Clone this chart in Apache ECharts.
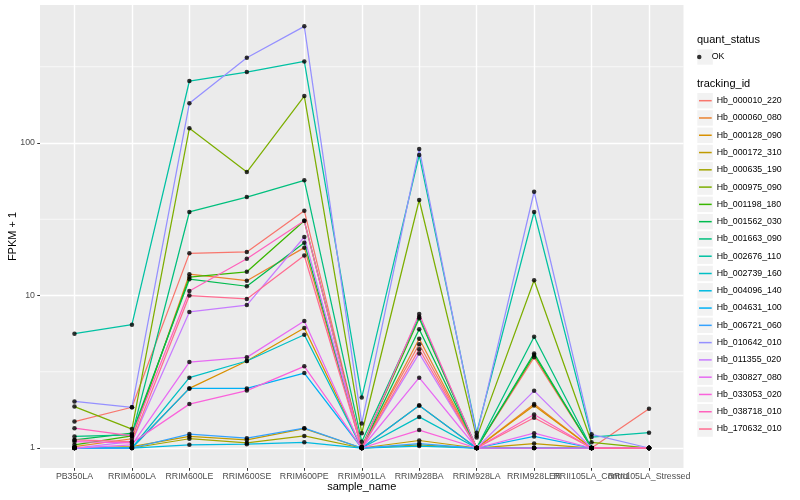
<!DOCTYPE html>
<html><head><meta charset="utf-8">
<script src="https://cdn.jsdelivr.net/npm/echarts@6/dist/echarts.min.js"></script>
<style>html,body{margin:0;padding:0;background:#fff}#c{width:800px;height:500px}</style>
</head><body><div id="c"></div>
<script>
// ---- data (FPKM + 1) ----
const categories = ['PB350LA','RRIM600LA','RRIM600LE','RRIM600SE','RRIM600PE','RRIM901LA','RRIM928BA','RRIM928LA','RRIM928LER','RRII105LA_Control','RRII105LA_Stressed'];
const trackingIds = ['Hb_000010_220','Hb_000060_080','Hb_000128_090','Hb_000172_310','Hb_000635_190','Hb_000975_090','Hb_001198_180','Hb_001562_030','Hb_001663_090','Hb_002676_110','Hb_002739_160','Hb_004096_140','Hb_004631_100','Hb_006721_060','Hb_010642_010','Hb_011355_020','Hb_030827_080','Hb_033053_020','Hb_038718_010','Hb_170632_010'];
const colors = ['#F8766D','#EA8331','#D89000','#C09B00','#A3A500','#7CAE00','#39B600','#00BB4E','#00BF7D','#00C1A3','#00BFC4','#00BAE0','#00B0F6','#35A2FF','#9590FF','#C77CFF','#E76BF3','#FA62DB','#FF62BC','#FF6C91'];

const hb000010_220 = [1.49, 1.85, 18.9, 19.3, 36.0, 1.02, 4.79, 1.0, 3.93, 1.0, 1.81];
const hb000060_080 = [1.02, 1.15, 13.8, 12.5, 20.6, 1.0, 5.2, 1.0, 1.94, 1.0, 1.0];
const hb000128_090 = [1.0, 1.0, 2.46, 3.72, 6.12, 1.0, 1.9, 1.0, 1.9, 1.0, 1.0];
const hb000172_310 = [1.0, 1.02, 1.19, 1.13, 1.34, 1.0, 1.12, 1.0, 1.07, 1.0, 1.0];
const hb000635_190 = [1.0, 1.0, 1.15, 1.08, 1.2, 1.0, 1.05, 1.0, 1.0, 1.0, 1.0];
const hb000975_090 = [1.87, 1.33, 125, 64.5, 203, 1.25, 42.3, 1.17, 12.6, 1.09, 1.0];
const hb001198_180 = [1.05, 1.2, 13.2, 14.3, 30.9, 1.02, 7.1, 1.0, 4.07, 1.0, 1.0];
const hb001562_030 = [1.13, 1.25, 12.8, 11.5, 22.2, 1.0, 6.0, 1.0, 4.17, 1.0, 1.0];
const hb001663_090 = [1.19, 1.22, 35.3, 44.2, 56.9, 1.1, 7.26, 1.0, 5.37, 1.0, 1.0];
const hb002676_110 = [5.62, 6.44, 255, 292, 343, 2.14, 83.4, 1.26, 35.3, 1.18, 1.26];
const hb002739_160 = [1.0, 1.0, 2.89, 3.72, 5.53, 1.0, 1.6, 1.0, 1.0, 1.0, 1.0];
const hb004096_140 = [1.0, 1.0, 1.05, 1.06, 1.09, 1.0, 1.03, 1.0, 1.0, 1.0, 1.0];
const hb004631_100 = [1.0, 1.0, 2.46, 2.46, 3.1, 1.0, 1.9, 1.0, 1.19, 1.0, 1.0];
const hb006721_060 = [1.0, 1.0, 1.235, 1.16, 1.35, 1.0, 1.07, 1.0, 1.0, 1.0, 1.0];
const hb010642_010 = [2.02, 1.85, 182, 362, 582, 1.45, 91.4, 1.21, 47.9, 1.23, 1.0];
const hb011355_020 = [1.0, 1.1, 7.8, 8.66, 24.2, 1.0, 4.17, 1.0, 2.37, 1.0, 1.0];
const hb030827_080 = [1.0, 1.05, 3.66, 3.93, 6.8, 1.0, 2.89, 1.0, 1.25, 1.0, 1.0];
const hb033053_020 = [1.1, 1.08, 1.94, 2.38, 3.43, 1.0, 1.31, 1.0, 1.0, 1.0, 1.0];
const hb038718_010 = [1.35, 1.2, 10.7, 17.4, 30.9, 1.0, 7.55, 1.0, 1.66, 1.0, 1.0];
const hb170632_010 = [1.13, 1.1, 10.0, 9.5, 18.3, 1.0, 4.44, 1.0, 1.58, 1.0, 1.0];

const yMajorTicks = [1, 10, 100];
const yMinorTicks = [3.1623, 31.623, 316.23];

const seriesValues = [hb000010_220, hb000060_080, hb000128_090, hb000172_310, hb000635_190, hb000975_090, hb001198_180, hb001562_030, hb001663_090, hb002676_110, hb002739_160, hb004096_140, hb004631_100, hb006721_060, hb010642_010, hb011355_020, hb030827_080, hb033053_020, hb038718_010, hb170632_010];

// ---- chart ----
const FONT = '"Liberation Sans", Arial, Helvetica, sans-serif';
const chart = echarts.init(document.getElementById('c'), null, {renderer: 'canvas'});
const X_MIN = -0.6, X_MAX = categories.length - 1 + 0.6;
const xTickValues = categories.map((c, i) => i);
// labels split over two axes so overlapping neighbours are both drawn (as in the reference)
const xLabelsA = xTickValues.filter(i => i !== 9);
const xLabelsB = [9];

const minorGrid = yMinorTicks.map(v => ({
  type: 'line', data: [[X_MIN, v], [X_MAX, v]], showSymbol: false, symbol: 'none',
  lineStyle: {color: '#ffffff', width: 0.7}, silent: true, z: 1, tooltip: {show: false}
}));

const lineSeries = trackingIds.map((id, k) => ({
  name: id, type: 'line', data: seriesValues[k].map((v, i) => [i, v]),
  symbol: 'none', showSymbol: false, color: colors[k],
  lineStyle: {width: 1.25, color: colors[k]}, itemStyle: {color: colors[k]},
  silent: true, z: 2
}));

const pts = [];
seriesValues.forEach(arr => arr.forEach((v, i) => pts.push([i, v])));
const pointSeries = {
  name: 'OK', type: 'scatter', data: pts, symbol: 'circle', symbolSize: 4.5,
  itemStyle: {color: '#000000'}, silent: true, z: 3
};

// legend key backgrounds + legend titles
const ROW = 17.28, LEG_TOP = 92.06;
const graphics = [];
const keyBox = (cy) => ({type: 'rect', shape: {x: 697.3, y: cy - 7.7, width: 15.5, height: 15.4}, style: {fill: '#F2F2F2'}, silent: true, z: -1});
graphics.push(keyBox(57));
trackingIds.forEach((id, k) => graphics.push(keyBox(LEG_TOP + ROW * (k + 0.5))));
graphics.push({type: 'text', left: 697, top: 34, style: {text: 'quant_status', fontSize: 11, fontFamily: FONT, fill: '#000'}});
graphics.push({type: 'text', left: 697, top: 78, style: {text: 'tracking_id', fontSize: 11, fontFamily: FONT, fill: '#000'}});

const xLabelStyle = {fontSize: 8.8, color: '#4D4D4D', margin: 4.5, fontFamily: FONT,
  showMinLabel: true, showMaxLabel: true, hideOverlap: false,
  formatter: v => categories[Math.round(v)] || ''};

chart.setOption({
  animation: false,
  backgroundColor: '#ffffff',
  textStyle: {fontFamily: FONT},
  grid: {left: 40, top: 5, right: 116.5, bottom: 32, show: true, backgroundColor: '#EBEBEB', borderWidth: 0,
         containLabel: false, outerBoundsMode: 'none'},
  xAxis: [{
    type: 'value', min: X_MIN, max: X_MAX, position: 'bottom', offset: 0,
    name: 'sample_name', nameLocation: 'middle', nameGap: 13.5, nameMoveOverlap: false,
    nameTextStyle: {fontSize: 11, color: '#000', fontFamily: FONT},
    axisLine: {show: false, onZero: false},
    axisTick: {show: true, length: 2.75, customValues: xTickValues, lineStyle: {color: '#333333', width: 1}},
    axisLabel: Object.assign({customValues: xLabelsA}, xLabelStyle),
    splitLine: {show: true, lineStyle: {color: '#ffffff', width: 1.4}}
  }, {
    type: 'value', min: X_MIN, max: X_MAX, position: 'bottom', offset: 0,
    axisLine: {show: false, onZero: false},
    axisTick: {show: false},
    axisLabel: Object.assign({customValues: xLabelsB}, xLabelStyle),
    splitLine: {show: false}
  }],
  yAxis: {
    type: 'log', logBase: 10, min: 0.7394, max: 803.5,
    name: 'FPKM + 1', nameLocation: 'middle', nameGap: 22, nameMoveOverlap: false,
    nameTextStyle: {fontSize: 11, color: '#000', fontFamily: FONT},
    axisLine: {show: false, onZero: false},
    axisTick: {show: true, length: 2.75, customValues: yMajorTicks, lineStyle: {color: '#333333', width: 1}},
    axisLabel: {fontSize: 8.8, color: '#4D4D4D', margin: 5, fontFamily: FONT, customValues: yMajorTicks,
      showMinLabel: true, showMaxLabel: true,
      formatter: v => String(Math.round(v))},
    splitLine: {show: true, lineStyle: {color: '#ffffff', width: 1.4}}
  },
  legend: [
    {data: [{name: 'OK'}], orient: 'vertical', left: 697, top: 57 - ROW / 2, padding: 0, itemGap: 0,
     itemWidth: 15, itemHeight: 4.5, icon: 'circle', selectedMode: false,
     textStyle: {fontSize: 8.8, lineHeight: ROW, color: '#000', fontFamily: FONT}},
    {data: trackingIds, orient: 'vertical', left: 699, top: LEG_TOP, padding: 0, itemGap: 0,
     itemWidth: 12.7, itemHeight: 1.5, icon: 'rect', selectedMode: false,
     textStyle: {fontSize: 8.8, lineHeight: ROW, color: '#000', fontFamily: FONT}}
  ],
  graphic: graphics,
  series: [...minorGrid, ...lineSeries, pointSeries]
});
</script></body></html>
